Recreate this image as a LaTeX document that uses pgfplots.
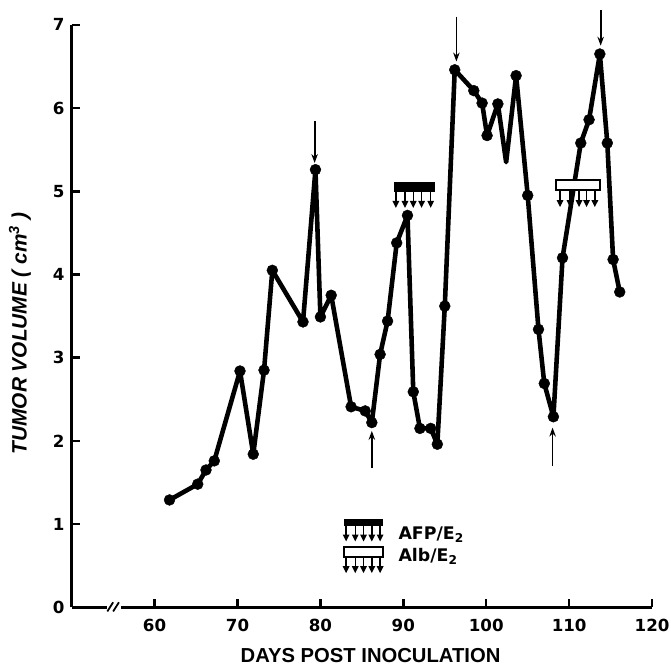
\documentclass[border=0pt]{standalone}
\usepackage{fontspec}
\setmainfont{Liberation Sans}
\newfontfamily\widefont{DejaVu Sans}
\usepackage{pgfplots}
\usepackage{pgfplotstable}
\pgfplotsset{compat=1.18}
\usetikzlibrary{arrows.meta}

% tumour volume (cm^3) against days post inoculation
\pgfplotstableread{
day   vol
61.8  1.29
65.2  1.48
66.2  1.65
67.2  1.76
70.3  2.84
71.9  1.84
73.2  2.85
74.2  4.05
77.9  3.43
79.4  5.26
80.0  3.49
81.3  3.75
83.7  2.41
85.4  2.36
86.2  2.22
87.2  3.04
88.1  3.44
89.2  4.38
90.5  4.71
91.2  2.59
92.0  2.15
93.3  2.15
94.1  1.96
95.0  3.62
96.2  6.46
98.5  6.21
99.5  6.06
100.1 5.67
101.4 6.05
102.4 5.35
103.6 6.39
105.0 4.95
106.3 3.34
107.0 2.69
108.1 2.29
109.2 4.20
111.4 5.58
112.4 5.86
113.7 6.65
114.6 5.58
115.3 4.18
116.1 3.79
}\tumor

\begin{document}
\begin{tikzpicture}
\begin{axis}[
  name=ax, at={(0,0)}, anchor=south west,
  scale only axis, width=583bp, height=585bp,
  xmin=50, xmax=120, ymin=0, ymax=7,
  axis x line=bottom, axis y line=left,
  axis line style={line width=2.5bp, -},
  xtick={60,70,...,120}, ytick={0,1,...,7},
  tick align=inside, major tick length=8bp,
  tick style={line width=2.5bp, black},
  /pgf/number format/assume math mode=true,
  ticklabel style={font=\widefont\fontsize{16.8}{16.8}\selectfont\bfseries, inner sep=0pt},
  xticklabel shift=12bp, yticklabel shift=7bp,
  xlabel={DAYS POST INOCULATION},
  ylabel={TUMOR VOLUME ( cm\textsuperscript{3} )},
  xlabel style={at={(axis description cs:0.515,-0.094)}, anchor=base,
    font=\fontsize{20.4}{20.4}\selectfont\bfseries},
  ylabel style={at={(axis description cs:-0.089,0.47)}, anchor=center,
    font=\fontsize{21}{21}\selectfont\bfseries\itshape},
  clip=false,
]

% growth curve
\addplot[black, line width=4.6bp, no marks, line join=round] table[x=day, y=vol] {\tumor};
% the vertex at day 102 has no dot
\addplot[black, only marks, mark=*, mark size=5.5bp, skip coords between index={29}{30}]
  table[x=day, y=vol] {\tumor};

% axis break
\fill[white] (axis cs:54.2,-0.07) rectangle (axis cs:55.9,0.07);
\draw[line width=1.8bp] (axis cs:54.3,-0.05) -- (axis cs:55.0,0.06);
\draw[line width=1.8bp] (axis cs:55.0,-0.05) -- (axis cs:55.7,0.06);

% injection arrows
\draw[line width=1.8bp, -{Stealth[length=9bp,width=6.5bp]}] (axis cs:79.3,5.84) -- (axis cs:79.3,5.34);
\draw[line width=1.8bp, -{Stealth[length=9bp,width=6.5bp]}] (axis cs:96.4,7.10) -- (axis cs:96.4,6.56);
\draw[line width=1.8bp, -{Stealth[length=9bp,width=6.5bp]}] (axis cs:113.8,7.18) -- (axis cs:113.8,6.75);
\draw[line width=1.8bp, -{Stealth[length=9bp,width=6.5bp]}] (axis cs:86.2,1.68) -- (axis cs:86.2,2.12);
\draw[line width=1.8bp, -{Stealth[length=9bp,width=6.5bp]}] (axis cs:108.0,1.70) -- (axis cs:108.0,2.16);

% AFP/E2 treatment
\fill[black] (axis cs:88.9,4.99) rectangle (axis cs:93.8,5.11);
\pgfplotsinvokeforeach{89.1,90.2,91.2,92.2,93.3}{
  \draw[line width=1.4bp, -{Triangle[length=7bp,width=6.5bp]}] (axis cs:#1,5.00) -- (axis cs:#1,4.80);
}
% Alb/E2 treatment
\draw[line width=2bp, fill=white] (axis cs:108.4,5.02) rectangle (axis cs:113.7,5.13);
\pgfplotsinvokeforeach{108.9,110.1,111.2,112.1,113.1}{
  \draw[line width=1.4bp, -{Triangle[length=7bp,width=6.5bp]}] (axis cs:#1,5.01) -- (axis cs:#1,4.81);
}

% key
\fill[black] (axis cs:82.8,0.98) rectangle (axis cs:87.5,1.06);
\pgfplotsinvokeforeach{83.1,84.2,85.2,86.2,87.2}{
  \draw[line width=1.4bp, -{Triangle[length=7bp,width=6.5bp]}] (axis cs:#1,0.99) -- (axis cs:#1,0.79);
}
\draw[line width=2bp, fill=white] (axis cs:82.8,0.61) rectangle (axis cs:87.5,0.72);
\pgfplotsinvokeforeach{83.1,84.2,85.2,86.2,87.2}{
  \draw[line width=1.4bp, -{Triangle[length=7bp,width=6.5bp]}] (axis cs:#1,0.60) -- (axis cs:#1,0.41);
}
\node[anchor=west, inner sep=0pt, font=\widefont\fontsize{17.5}{17.5}\selectfont\bfseries]
  at (axis cs:89.4,0.87) {AFP/E\textsubscript{2}};
\node[anchor=west, inner sep=0pt, font=\widefont\fontsize{17.5}{17.5}\selectfont\bfseries]
  at (axis cs:89.4,0.61) {Alb/E\textsubscript{2}};

\end{axis}
\pgfresetboundingbox
\path[use as bounding box] (-72bp,-59bp) rectangle (602bp,610bp);
\end{tikzpicture}
\end{document}
